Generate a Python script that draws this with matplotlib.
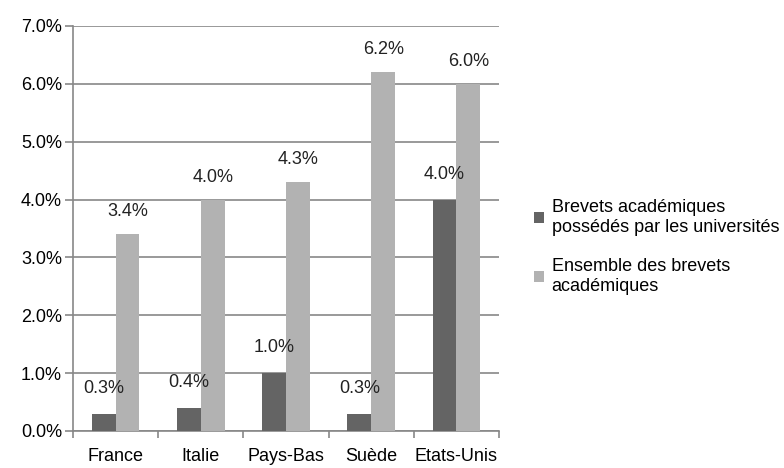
import matplotlib.pyplot as plt
import numpy as np

plt.rcParams['font.family'] = ['Liberation Sans', 'DejaVu Sans']

# données
pays = ['France', 'Italie', 'Pays-Bas', 'Suède', 'Etats-Unis']
brevets_univ = [0.3, 0.4, 1.0, 0.3, 4.0]
brevets_total = [3.4, 4.0, 4.3, 6.2, 6.0]
noms_series = ['Brevets académiques\npossédés par les universités',
               'Ensemble des brevets\nacadémiques']

fig = plt.figure(figsize=(7.84, 4.68), dpi=100)
ax = fig.add_axes([0.0931, 0.0791, 0.5434, 0.8654])

x = np.arange(len(pays))
w = 0.28
b1 = ax.bar(x - w / 2, brevets_univ, w, color='#646464', label=noms_series[0], zorder=3)
b2 = ax.bar(x + w / 2, brevets_total, w, color='#b2b2b2', label=noms_series[1], zorder=3)

for bars, vals, dy in ((b1, brevets_univ, 12), (b2, brevets_total, 10)):
    for r, v in zip(bars, vals):
        ax.annotate(f'{v:.1f}%', (r.get_x() + r.get_width() / 2, r.get_height()),
                    xytext=(0, dy), textcoords='offset points',
                    ha='center', va='bottom', fontsize=13, color='#222222')

ax.set_xlim(-0.5, len(pays) - 0.5)
ax.set_ylim(0, 7)
ax.set_yticks(np.arange(0, 8, 1))
ax.set_yticklabels([f'{v:.1f}%' for v in np.arange(0, 8, 1)])
ax.yaxis.grid(True, color='#878787', linewidth=1.2, zorder=0)

ax.set_xticks(x)
ax.set_xticklabels(pays)
ax.set_xticks(np.arange(-0.5, len(pays)), minor=True)
ax.tick_params(axis='x', which='major', length=0, pad=12, labelsize=13)
ax.tick_params(axis='x', which='minor', length=5, color='#878787', width=1.2)
ax.tick_params(axis='y', length=6, color='#878787', width=1.2, labelsize=13, pad=2)

for s in ['top', 'right']:
    ax.spines[s].set_visible(False)
for s in ['left', 'bottom']:
    ax.spines[s].set_color('#878787')
    ax.spines[s].set_linewidth(1.2)

leg = ax.legend(loc='center left', bbox_to_anchor=(1.045, 0.455), frameon=False,
                fontsize=13, handlelength=0.55, handleheight=0.55, handletextpad=0.4,
                labelspacing=1.2)
for t in leg.get_texts():
    t.set_linespacing(1.25)

plt.savefig('out.png', dpi=100)
